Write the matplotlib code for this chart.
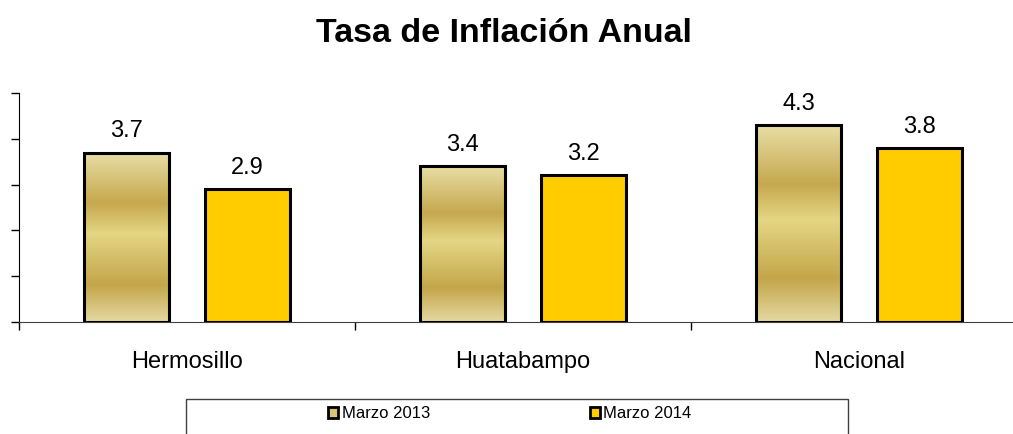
import numpy as np
import matplotlib
matplotlib.use("Agg")
import matplotlib.pyplot as plt
from matplotlib.patches import Rectangle
from matplotlib.colors import LinearSegmentedColormap

plt.rcParams['font.family'] = ['Liberation Sans', 'DejaVu Sans']

# data
categories = ['Hermosillo', 'Huatabampo', 'Nacional']
marzo_2013 = [3.7, 3.4, 4.3]
marzo_2014 = [2.9, 3.2, 3.8]
series_labels = ['Marzo 2013', 'Marzo 2014']

W, H = 1013, 434
fig = plt.figure(figsize=(W / 100, H / 100), dpi=100)
ax = fig.add_axes([19 / W, 1 - 322 / H, (1027 - 19) / W, (322 - 93) / H])

x = np.arange(len(categories))
width = 0.253
off = 0.18

# gold metallic gradient for the 2013 bars
gold = LinearSegmentedColormap.from_list('gold', [
    (0.0, (232 / 255, 222 / 255, 165 / 255)),
    (0.30, (198 / 255, 168 / 255, 78 / 255)),
    (0.48, (228 / 255, 214 / 255, 132 / 255)),
    (0.78, (196 / 255, 166 / 255, 74 / 255)),
    (1.0, (228 / 255, 216 / 255, 162 / 255)),
])
grad = np.linspace(0, 1, 256).reshape(-1, 1)

bars13 = ax.bar(x - off, marzo_2013, width, facecolor='none',
                edgecolor='black', linewidth=2.2, zorder=3)
for b in bars13:
    ax.imshow(grad, cmap=gold, aspect='auto', zorder=2,
              extent=[b.get_x(), b.get_x() + b.get_width(), 0, b.get_height()])
bars14 = ax.bar(x + off, marzo_2014, width, color='#FFCC00',
                edgecolor='black', linewidth=2.2, zorder=3)

for b in list(bars13) + list(bars14):
    ax.text(b.get_x() + b.get_width() / 2, b.get_height() + 0.22,
            f'{b.get_height():.1f}', ha='center', va='bottom', fontsize=17)

ax.set_xlim(-0.5, 2.5)
ax.set_ylim(0, 5)
ax.set_yticks(range(6))
ax.set_yticklabels([])
ax.tick_params(axis='y', length=6, width=1, direction='out')
ax.set_xticks(x)
ax.set_xticklabels(categories, fontsize=17)
ax.tick_params(axis='x', which='major', length=0, pad=21)
ax.set_xticks([-0.5, 0.5, 1.5, 2.5], minor=True)
ax.tick_params(axis='x', which='minor', length=6, width=1)
ax.spines['top'].set_visible(False)
ax.spines['right'].set_visible(False)
ax.spines['bottom'].set_color('#404040')
ax.spines['left'].set_color('black')

fig.text(504 / W, 1 - 33 / H, 'Tasa de Inflación Anual', ha='center',
         va='center', fontsize=24.5, fontweight='bold')

# legend
fig.patches.append(Rectangle((186 / W, -0.1), (848 - 186) / W, 0.1 + 1 - 399 / H,
                             transform=fig.transFigure, fill=False,
                             edgecolor='#404040', linewidth=1))
h1 = Rectangle((0, 0), 1, 1, facecolor=(214 / 255, 196 / 255, 120 / 255),
               edgecolor='black', linewidth=2)
h2 = Rectangle((0, 0), 1, 1, facecolor='#FFCC00', edgecolor='black', linewidth=2)
fig.legend([h1, h2], series_labels, loc='center', ncol=2, frameon=False,
           bbox_to_anchor=(510 / W, 1 - 414 / H), fontsize=12,
           handlelength=0.6, handleheight=0.6, handletextpad=0.2,
           columnspacing=9.6)

fig.savefig('out.png', dpi=100)
